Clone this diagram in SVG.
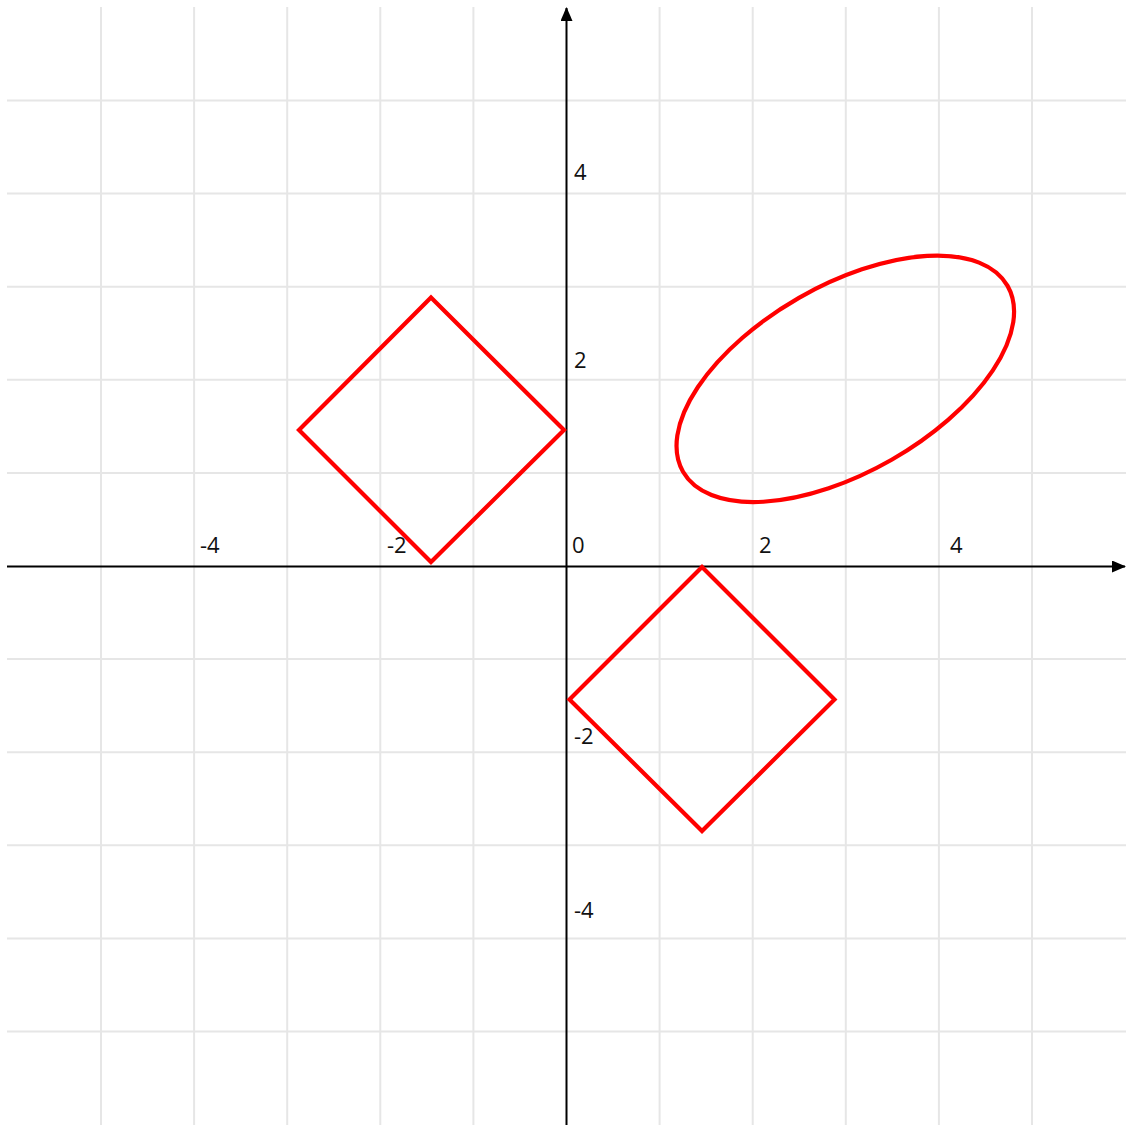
<svg xmlns="http://www.w3.org/2000/svg" width="1131" height="1125" viewBox="0 0 1131 1125">
<style>
.grid line{stroke:#e6e6e6;stroke-width:2}
.axis{stroke:#000;stroke-width:2;fill:none}
.shape{fill:none;stroke:#ff0000;stroke-width:4.2;stroke-linejoin:miter}
.lbl{font-family:"Open Sans","DejaVu Sans",sans-serif;font-size:22px;fill:#111}
</style>
<defs>
<marker id="arr" viewBox="0 0 14 12" refX="13" refY="6" markerWidth="14" markerHeight="12" markerUnits="userSpaceOnUse" orient="auto">
<path d="M0,0 L14,6 L0,12 Z" fill="#000"/>
</marker>
</defs>
<rect width="1131" height="1125" fill="#fff"/>
<g id="grid" class="grid">
<line x1="101" y1="7" x2="101" y2="1125"/>
<line x1="194.1" y1="7" x2="194.1" y2="1125"/>
<line x1="287.2" y1="7" x2="287.2" y2="1125"/>
<line x1="380.3" y1="7" x2="380.3" y2="1125"/>
<line x1="473.4" y1="7" x2="473.4" y2="1125"/>
<line x1="659.6" y1="7" x2="659.6" y2="1125"/>
<line x1="752.7" y1="7" x2="752.7" y2="1125"/>
<line x1="845.8" y1="7" x2="845.8" y2="1125"/>
<line x1="938.9" y1="7" x2="938.9" y2="1125"/>
<line x1="1032" y1="7" x2="1032" y2="1125"/>
<line x1="7" y1="100.5" x2="1126" y2="100.5"/>
<line x1="7" y1="193.6" x2="1126" y2="193.6"/>
<line x1="7" y1="286.7" x2="1126" y2="286.7"/>
<line x1="7" y1="379.8" x2="1126" y2="379.8"/>
<line x1="7" y1="472.9" x2="1126" y2="472.9"/>
<line x1="7" y1="659.1" x2="1126" y2="659.1"/>
<line x1="7" y1="752.2" x2="1126" y2="752.2"/>
<line x1="7" y1="845.3" x2="1126" y2="845.3"/>
<line x1="7" y1="938.4" x2="1126" y2="938.4"/>
<line x1="7" y1="1031.5" x2="1126" y2="1031.5"/>
</g>
<g id="connectors">
<line class="axis" x1="7" y1="566.5" x2="1125" y2="566.5" marker-end="url(#arr)"/>
<line class="axis" x1="566.5" y1="1125" x2="566.5" y2="8" marker-end="url(#arr)"/>
</g>
<g id="labels">
<text class="lbl" x="200" y="553">-4</text>
<text class="lbl" x="387" y="553">-2</text>
<text class="lbl" x="572" y="553">0</text>
<text class="lbl" x="759" y="553">2</text>
<text class="lbl" x="950" y="553">4</text>
<text class="lbl" x="574" y="180">4</text>
<text class="lbl" x="574" y="368">2</text>
<text class="lbl" x="574" y="744">-2</text>
<text class="lbl" x="574" y="918">-4</text>
</g>
<g id="diamond1">
<polygon class="shape" points="431,297.5 564,430 431,562 299,430"/>
</g>
<g id="diamond2">
<polygon class="shape" points="702,567 834.5,699.5 702,831 569.5,699.5"/>
</g>
<g id="ellipse1">
<ellipse class="shape" cx="845.3" cy="378.8" rx="187" ry="93.3" transform="rotate(-29.8 845.3 378.8)"/>
</g>
</svg>
